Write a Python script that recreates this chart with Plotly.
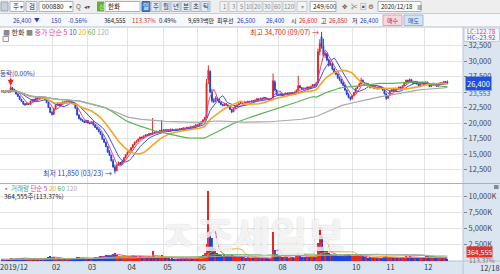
import plotly.graph_objects as go
import pandas as pd

FONT = "Noto Sans CJK KR, Noto Sans, DejaVu Sans, sans-serif"
W, H = 500, 274

# ---------------- data ----------------
stock_name = "한화"
stock_code = "000880"
last_date = "2020/12/18"
last_date_short = "12/18"
high_date = "09/07"
low_date = "03/23"

opens = [
    25100,25150,24950,25150,25050,25000,25700,25400,25100,24700,
    24300,23800,23500,23100,22950,23150,23000,23500,23800,23650,
    24000,23900,24100,23950,24050,23800,23300,22500,21700,21400,
    22300,22900,23100,22800,23200,23400,23300,23500,23600,23400,
    23300,23100,22400,21300,20700,20500,20300,20100,20400,20000,
    19900,20200,19700,19300,19000,18600,18200,17400,16900,16200,
    15300,14800,13900,12900,12300,13200,13600,13300,13800,14400,
    14900,15300,15600,16000,16500,16900,17100,17400,17700,17600,
    17900,18100,18000,18300,18200,18500,18400,18600,18500,18800,
    18700,18900,18800,18900,18700,19000,18900,18800,19000,18900,
    19100,19000,19200,19100,19300,19200,19400,19300,19500,19700,
    19600,19900,20200,20500,20900,27000,28300,25000,23600,23500,
    24000,23800,23300,23000,22800,23100,22900,22600,22200,21800,
    22300,22700,22900,23100,23300,23200,23400,23300,23500,23400,
    23600,23500,23700,23900,23800,24000,23900,24100,23900,23800,
    23700,24000,26600,25300,24600,24500,24700,24400,24600,24800,
    24500,24700,24900,24700,25000,25300,26000,25700,25400,25600,
    25500,25800,25600,25900,26200,26000,26500,31500,33900,32400,
    30900,31200,30200,29300,29600,28700,28200,27900,27300,27000,
    26500,26100,25300,24600,24100,23900,24400,24900,25600,25900,
    26300,26900,26500,26100,26300,25900,25700,26000,25600,25800,
    25500,25900,25600,25300,24700,24000,24400,25100,25400,25200,
    25600,25400,25800,25600,26000,26400,26900,26600,27000,26700,
    26400,26700,26300,26000,26300,26500,26200,26600,26300,25900,
    26100,26400,26200,25900,26200,26500,26300,26700,26600,
]
highs = [
    25250,25200,25250,25250,25150,26000,25800,25500,25150,24750,
    24400,23900,23550,23200,23300,23250,23600,23900,23900,24100,
    24150,24200,24200,24150,24100,23850,23350,22600,21900,22400,
    23000,23200,23150,23300,23500,23450,23600,23750,23650,23450,
    23350,23150,22450,21400,20900,20600,20400,20500,20450,20100,
    20300,20250,19750,19400,19100,18700,18250,17500,17000,16300,
    15600,14900,14200,13300,13300,13800,13700,13900,14500,15000,
    15400,15700,16100,16600,17000,17200,17500,17800,17800,18000,
    18200,18200,18400,18400,20800,18600,18700,18650,18900,20500,
    19000,19000,19000,18950,19100,19050,18950,19100,19050,19200,
    19150,19300,19250,19400,19350,19500,19450,19600,19800,19750,
    20000,20300,20600,21000,27100,29300,28500,25500,24000,24300,
    24200,23900,23400,23100,23200,23150,22950,22700,22300,22400,
    22800,23000,23200,23400,23350,23500,23450,23600,23550,23700,
    23650,23800,24000,23950,24100,24050,24200,24150,23950,23850,
    24000,28000,26900,25400,24700,24800,24750,24700,24900,24850,
    24800,25000,24950,25100,25400,27600,26100,25750,25700,25650,
    25900,25850,26000,26300,26250,26600,32000,33500,34700,33600,
    31500,31300,30400,29900,29700,28900,28400,28000,27500,27100,
    26700,26200,25400,24800,24300,24500,25000,25700,26000,26500,
    27300,27000,26600,26400,26350,26000,26100,26050,25900,25850,
    26000,25950,25700,25400,24800,24500,25200,25500,25450,25700,
    25650,25900,25850,26100,26500,27000,26950,27200,27050,26750,
    26800,26750,26350,26400,26600,26550,26700,26650,26350,26200,
    26500,26450,26250,26300,26600,26550,26800,26750,26850,
]
lows = [
    24950,24900,24900,25000,24950,24950,25350,25100,24600,24200,
    23700,23400,22900,22800,22900,22900,22950,23400,23550,23600,
    23800,23850,23900,23900,23700,23200,22400,21600,21200,21350,
    22250,22800,22700,22750,23150,23200,23250,23450,23300,23200,
    23000,22300,21200,20600,20400,20200,20000,20050,19900,19800,
    19850,19600,19200,18900,18500,18100,17300,16800,16100,15200,
    14700,13800,12800,11850,12200,13100,13200,13250,13700,14300,
    14800,15200,15500,15900,16400,16800,17000,17300,17450,17550,
    17800,17900,17950,18100,18150,18300,18350,18400,18450,18600,
    18650,18700,18750,18600,18650,18800,18700,18750,18850,18850,
    18950,18950,19000,19050,19100,19150,19200,19250,19450,19500,
    19550,19850,20150,20400,20850,26300,24800,23300,23200,23400,
    23600,23200,22900,22700,22750,22800,22500,22100,21600,21750,
    22250,22600,22850,23050,23100,23150,23200,23250,23300,23350,
    23400,23450,23650,23700,23750,23800,23850,23850,23700,23600,
    23650,23950,25100,24500,24400,24450,24300,24350,24550,24400,
    24450,24650,24600,24650,24950,25200,25600,25300,25350,25400,
    25450,25500,25550,25850,25900,25950,26400,30900,32000,30700,
    30500,30000,29100,29200,28500,28000,27700,27100,26800,26300,
    25900,25200,24500,24000,23600,23800,24300,24800,25500,25800,
    26200,26400,26000,26050,25800,25600,25650,25500,25550,25400,
    25450,25500,25200,24600,23700,23900,24350,25050,25100,25150,
    25300,25350,25500,25550,25950,26350,26500,26550,26600,26300,
    26350,26200,25900,25950,26250,26100,26150,26200,25800,25850,
    26050,26100,25800,25850,26150,26200,26250,26450,26400,
]
closes = [
    25150,24950,25150,25050,25000,25700,25400,25150,24700,24300,
    23800,23500,23100,22950,23150,23000,23500,23800,23650,24000,
    23900,24100,23950,24050,23800,23300,22500,21700,21400,22300,
    22900,23100,22800,23200,23400,23300,23500,23600,23400,23300,
    23100,22400,21300,20700,20500,20300,20100,20400,20000,19900,
    20200,19700,19300,19000,18600,18200,17400,16900,16200,15300,
    14800,13900,12900,12300,13200,13600,13300,13800,14400,14900,
    15300,15600,16000,16500,16900,17100,17400,17700,17600,17900,
    18100,18000,18300,18200,18500,18400,18600,18500,18800,18700,
    18900,18800,18900,18700,19000,18900,18800,19000,18900,19100,
    19000,19200,19100,19300,19200,19400,19300,19500,19700,19600,
    19900,20200,20500,20900,26400,28500,25000,23600,23500,24000,
    23800,23300,23000,22800,23100,22900,22600,22200,21800,22300,
    22700,22900,23100,23300,23200,23400,23300,23500,23400,23600,
    23500,23700,23900,23800,24000,23900,24100,23900,23800,23700,
    23900,26800,25300,24600,24500,24700,24400,24600,24800,24500,
    24700,24900,24700,25000,25300,26000,25700,25400,25600,25500,
    25800,25600,25900,26200,26000,26400,31500,32800,32400,30900,
    31200,30200,29300,29600,28700,28200,27900,27300,27000,26500,
    26100,25300,24600,24100,23900,24400,24900,25600,25900,26300,
    26900,26500,26100,26300,25900,25700,26000,25600,25800,25500,
    25900,25600,25300,24700,24000,24400,25100,25400,25200,25600,
    25400,25800,25600,26000,26400,26900,26600,27000,26700,26400,
    26700,26300,26000,26300,26500,26200,26600,26300,25900,26100,
    26400,26200,25900,26200,26500,26300,26700,26550,26400,
]
volume_k = [
    250,200,300,250,200,450,350,250,350,400,
    500,450,500,350,300,300,400,350,250,300,
    250,300,250,250,300,450,600,750,650,550,
    450,350,300,300,300,250,300,300,250,250,
    300,500,650,600,450,400,350,400,450,400,
    450,500,550,600,650,700,800,750,850,900,
    950,1000,1100,1200,900,800,700,750,800,700,
    750,700,800,900,750,700,650,700,600,650,
    550,600,700,650,1600,700,550,500,450,900,
    500,450,400,400,350,400,350,300,350,300,
    350,350,300,400,350,400,350,450,500,450,
    600,700,900,1200,2600,10800,4400,3600,2000,1800,
    1300,1100,900,800,900,750,700,800,900,800,
    700,650,600,650,550,600,500,550,500,450,
    500,450,500,450,400,450,400,450,400,350,
    400,4400,1700,1100,800,700,600,650,550,600,
    500,550,600,500,700,1300,800,650,600,550,
    600,650,700,800,750,1000,2700,5300,3800,2200,
    1600,1500,1200,1100,1000,900,850,800,750,700,
    800,900,1000,1100,900,800,750,700,800,750,
    900,700,600,550,500,550,500,450,500,450,
    500,450,500,550,700,600,650,550,500,450,
    500,450,500,550,650,750,600,700,550,500,
    550,500,450,500,550,600,700,800,600,550,
    500,450,500,450,500,550,450,400,364.555,
]

month_ticks = [-0.9, 28, 48, 70, 90, 109, 131, 154, 174, 195, 214, 235]
month_labels = ["2019/12", "02", "03", "04", "05", "06", "07", "08", "09", "10", "11", "12"]
price_ticks = [12500, 15000, 17500, 20000, 22500, 25000, 27500, 30000, 32500]
vol_ticks = [2500, 5000, 7500, 10000]
ma_periods = [5, 10, 20, 60, 120]
ma_colors = ["#e0409c", "#3558d8", "#f2a628", "#58b455", "#a9a9a9"]
ma_widths = [1, 1, 1.6, 1.2, 1.2]
vol_ma_periods = [5, 20, 60, 120]
vol_ma_colors = ["#e0409c", "#f2a628", "#58b455", "#a9a9a9"]

n = len(closes)
for arr in (opens, highs, lows, volume_k):
    if len(arr) != n:
        raise ValueError(f"length mismatch {len(arr)} vs {n}")

UP, DOWN = "#e8261e", "#1f43d6"
xs = list(range(n))

def px(x):
    return x / W

def py(y):
    return 1 - y / H

fig = go.Figure()

fig.add_trace(go.Candlestick(
    x=xs, open=opens, high=highs, low=lows, close=closes,
    xaxis="x2", yaxis="y",
    increasing=dict(line=dict(color=UP, width=1), fillcolor=UP),
    decreasing=dict(line=dict(color=DOWN, width=1), fillcolor=DOWN),
    whiskerwidth=0, hoverinfo="skip", showlegend=False))

cs = pd.Series(closes, dtype=float)
for p, c, w in zip(ma_periods, ma_colors, ma_widths):
    fig.add_trace(go.Scatter(x=xs, y=cs.rolling(p, min_periods=1).mean().tolist(), mode="lines",
                             line=dict(color=c, width=w), xaxis="x2", yaxis="y",
                             hoverinfo="skip", showlegend=False))

bar_colors = [UP if c >= o else DOWN for o, c in zip(opens, closes)]
fig.add_trace(go.Bar(x=xs, y=volume_k, marker=dict(color=bar_colors, line=dict(width=0)),
                     width=0.62, xaxis="x", yaxis="y2", hoverinfo="skip", showlegend=False))
vs = pd.Series(volume_k, dtype=float)
for p, c in zip(vol_ma_periods, vol_ma_colors):
    fig.add_trace(go.Scatter(x=xs, y=vs.rolling(p, min_periods=1).mean().tolist(), mode="lines",
                             line=dict(color=c, width=0.9), xaxis="x", yaxis="y2",
                             hoverinfo="skip", showlegend=False))

GRID = "#e3e3e3"
PLOT_R = 463
xrange_ = [-0.94, 256.7]
p_top, p_bot = 27, 183
v_top, v_bot = 184, 261
price_range = [10322, 35484]
vol_range = [0, 11855]

fig.update_layout(
    width=W, height=H, margin=dict(l=0, r=0, t=0, b=0), autosize=False,
    paper_bgcolor="white", plot_bgcolor="white", showlegend=False,
    font=dict(family=FONT, size=8, color="#333"),
    bargap=0,
    xaxis=dict(domain=[0, px(PLOT_R)], anchor="y2", range=xrange_,
               tickmode="array", tickvals=month_ticks, ticktext=month_labels,
               ticklabelposition="outside right", ticks="", showgrid=True, gridcolor=GRID,
               zeroline=False, showline=False, tickfont=dict(size=7.5, color="#333"),
               rangeslider=dict(visible=False)),
    xaxis2=dict(domain=[0, px(PLOT_R)], anchor="y", matches="x", range=xrange_,
                tickmode="array", tickvals=month_ticks, showticklabels=False, ticks="",
                showgrid=True, gridcolor=GRID, zeroline=False, showline=False,
                rangeslider=dict(visible=False)),
    yaxis=dict(domain=[py(p_bot), py(p_top)], anchor="x2", side="right", range=price_range,
               tickmode="array", tickvals=price_ticks,
               ticktext=[f"{v:,}" if v != 25000 else "" for v in price_ticks],
               showgrid=True, gridcolor=GRID, zeroline=False, showline=False,
               ticks="outside", ticklen=3, tickcolor="#7a8696",
               tickfont=dict(size=7.5, color="#4a4a4a")),
    yaxis2=dict(domain=[py(v_bot), py(v_top)], anchor="x", side="right", range=vol_range,
                tickmode="array", tickvals=vol_ticks,
                ticktext=[f"{v:,}K" for v in vol_ticks],
                showgrid=True, gridcolor=GRID, zeroline=False, showline=False,
                ticks="outside", ticklen=3, tickcolor="#7a8696",
                tickfont=dict(size=7.5, color="#4a4a4a")),
)

shapes = []
anns = []

def rect(x0, y0, x1, y1, fill, line=None, layer="below", lw=1):
    shapes.append(dict(type="rect", xref="paper", yref="paper",
                       x0=px(x0), x1=px(x1), y0=py(y1), y1=py(y0),
                       fillcolor=fill, line=dict(color=line or fill, width=lw if line else 0),
                       layer=layer))

def hline(y, x0, x1, color, layer="above"):
    shapes.append(dict(type="line", xref="paper", yref="paper", x0=px(x0), x1=px(x1),
                       y0=py(y), y1=py(y), line=dict(color=color, width=1), layer=layer))

def txt(x, y, s, color="#222", size=6.5, xanchor="left", bg=None, **kw):
    a = dict(x=px(x), y=py(y), xref="paper", yref="paper", text=s, showarrow=False,
             xanchor=xanchor, yanchor="middle", font=dict(size=size, color=color, family=FONT),
             borderpad=0)
    if bg:
        a["bgcolor"] = bg
    a.update(kw)
    anns.append(a)

# --- backgrounds ---
rect(0, 0, 500, 13.5, "#eeeeee")
rect(0, 13.5, 500, 27, "#f6f8fb")
hline(13.5, 0, 500, "#c9ced6", "below")
hline(27, 0, 500, "#b9bfc8", "below")
rect(PLOT_R, 27, 500, 261, "#dbe5f1")
rect(0, 261, 500, 274, "#dbe5f1")
hline(261, 0, 500, "#b9c4d2", "below")
hline(183.5, 0, 500, "#a9b0b9", "above")
shapes.append(dict(type="line", xref="paper", yref="paper", x0=px(PLOT_R), x1=px(PLOT_R),
                   y0=py(274), y1=py(27), line=dict(color="#b9c4d2", width=1), layer="below"))

# --- toolbar row 1 ---
rect(1, 2, 8, 11, "#c7d0dc", "#9aa6b6")
rect(10, 1.5, 24, 11.5, "white", "#a9b3c0"); txt(11.5, 6.5, "주"); txt(19, 6.5, "▾", "#555", 6)
rect(26, 1.5, 37, 11.5, "#f2f2f2", "#a9b3c0"); txt(28, 6.5, "검")
rect(39, 1.5, 73, 11.5, "white", "#a9b3c0"); txt(41, 6.5, stock_code, "#111", 6.5); txt(68, 6.5, "▾", "#555", 6)
txt(75, 6.5, "Q", "#666", 6.5)
txt(83, 6.5, "◂▾", "#555", 6)
rect(97, 1.5, 104, 11.5, "#5fae3e"); txt(97.5, 6.5, "신", "#fff36a", 6)
rect(105, 1.5, 140, 11.5, "white", "#a9b3c0"); txt(107, 6.5, stock_name, "#111", 6.5)
rect(142, 1.5, 150, 11.5, "#3f7fd0", "#2f6ab8"); txt(146, 6.5, "일", "white", 6.5, xanchor="center")
for i, s in enumerate(["주", "월", "년", "분", "초", "틱"]):
    x0 = 151 + i * 10
    rect(x0, 1.5, x0 + 9, 11.5, "#e7ebf1", "#aeb8c6"); txt(x0 + 4.5, 6.5, s, "#333", 6.5, xanchor="center")
for x0, s in [(220, "1"), (229, "3"), (237, "5"), (245, "10"), (253, "20"), (263, "30"), (273, "60"), (283, "120")]:
    wdt = 8 if len(s) == 1 else (9 if len(s) == 2 else 12)
    rect(x0, 1.5, x0 + wdt, 11.5, "#f1f1f1", "#c3c9d2"); txt(x0 + wdt / 2, 6.5, s, "#888", 6, xanchor="center")
rect(297, 1.5, 307, 11.5, "#f4f4f4", "#c3c9d2"); txt(302, 6.5, "▾", "#999", 6, xanchor="center")
rect(310, 1.5, 336, 11.5, "white", "#a9b3c0"); txt(312, 6.5, f"{n}", "#111", 6.5); txt(323, 6.5, "/600", "#444", 6)
for x0, s in [(341, "✥"), (350, "✂"), (359, "▣"), (367, "⚙")]:
    txt(x0, 6.5, s, "#555", 6.5)
rect(378, 1.5, 421, 11.5, "white", "#a9b3c0"); txt(379.5, 6.5, last_date, "#111", 6); txt(415.5, 6.5, "▦", "#555", 5)

# --- toolbar row 2 (quote line) ---
BLUE_T, RED_T = "#1f3fbf", "#d42a2a"
chg = closes[-1] - closes[-2]
pct = chg / closes[-2] * 100
Q = 6
txt(12, 20.3, f"{closes[-1]:,}", BLUE_T, Q); txt(33, 20.3, "▼", BLUE_T, 5.5)
txt(50, 20.3, f"{abs(chg):,}", BLUE_T, Q)
txt(67, 20.3, f"{pct:.2f}%", BLUE_T, Q)
txt(103, 20.3, "364,555", "#222", Q)
txt(131, 20.3, "113.37%", RED_T, Q)
txt(158, 20.3, "0.49%", "#222", Q)
txt(187, 20.3, "9,693백만", "#222", Q)
txt(216, 20.3, "최우선", "#222", Q)
txt(236, 20.3, "26,500", BLUE_T, Q)
txt(265, 20.3, "26,400", BLUE_T, Q)
txt(290, 20.3, "시", "#222", Q); txt(298, 20.3, f"{opens[-1]:,}", RED_T, Q)
txt(320, 20.3, "고", "#222", Q); txt(328, 20.3, f"{highs[-1]:,}", RED_T, Q)
txt(351, 20.3, "저", "#222", Q); txt(359, 20.3, f"{lows[-1]:,}", BLUE_T, Q)
rect(383, 15, 402, 25.5, "#f8d9e0", "#d9a3b1"); txt(392.5, 20.3, "매수", "#c0264a", Q, xanchor="center")
rect(404, 15, 423, 25.5, "#d4e3f6", "#9db6d8"); txt(413.5, 20.3, "매도", "#2350b0", Q, xanchor="center")

# --- price panel legend ---
legend_html = ('<span style="color:#8a8a8a">■</span> ' + stock_name +
               ' <span style="color:#8a8a8a">■</span> ' +
               f'<span style="color:{ma_colors[0]}">종가 단순 {ma_periods[0]}</span> ' +
               " ".join(f'<span style="color:{c}">{p}</span>' for p, c in zip(ma_periods[1:], ma_colors[1:])))
txt(2, 31.5, legend_html, "#333", 7)
rect(3, 36.5, 8.5, 41.5, "#f4f4f4", "#9a9a9a", layer="above")
txt(-1, 73, "등락(0.00%)", "#2a3a8a", 6.5)
anns.append(dict(x=5, y=highs[5], xref="x2", yref="y", text="", showarrow=True,
                 ax=0, ay=-9, arrowhead=2, arrowsize=0.8, arrowwidth=1.5, arrowcolor="#e02828"))

hi_idx = max(range(n), key=lambda i: highs[i])
lo_idx = min(range(n), key=lambda i: lows[i])
anns.append(dict(x=hi_idx, y=highs[hi_idx], xref="x2", yref="y", showarrow=False,
                 text=f"최고 {highs[hi_idx]:,} ({high_date}) →", xanchor="right", yanchor="middle",
                 xshift=-1, font=dict(size=7, color="#e02828", family=FONT)))
anns.append(dict(x=lo_idx, y=lows[lo_idx], xref="x2", yref="y", showarrow=False,
                 text=f"최저 {lows[lo_idx]:,} ({low_date}) →", xanchor="right", yanchor="middle",
                 xshift=-1, yshift=1, font=dict(size=7, color="#2c3fc0", family=FONT)))

# right axis extras
rect(464, 28, 499.5, 41.5, "#f3f6fb", "#c3cdda")
txt(465.5, 31.3, "LC:122.78", "#d0407f", 6.3)
txt(465.5, 38, "HC:-23.92", "#4a55c0", 6.3)
anns.append(dict(x=px(465), y=closes[-1], xref="paper", yref="y", showarrow=False,
                 text=f"{closes[-1]:,}", xanchor="left", yanchor="middle", bgcolor="#2150d8",
                 borderpad=1, font=dict(size=7.5, color="white", family=FONT)))
txt(468, 92.5, "23,553", "#4262c8", 7)

# --- volume panel legend ---
vol_legend = ('<span style="color:#8a8a8a">▪</span> <span style="color:#3a9a9a">거래량</span> ' +
              f'<span style="color:{vol_ma_colors[0]}">단순 {vol_ma_periods[0]}</span> ' +
              " ".join(f'<span style="color:{c}">{p}</span>' for p, c in zip(vol_ma_periods[1:], vol_ma_colors[1:])))
txt(2, 187.5, vol_legend, "#333", 6.5)
txt(3, 195.5, "364,555주(113.37%)", "#222", 6.5)
rect(494, 185, 498.5, 189, "#7d8a9c", layer="above")
txt(466, 252.3, "364,555", "white", 7, bg="#e2322b")
txt(468, 259.6, "113.37%", "#777", 6.5)

txt(479, 267.5, last_date_short, "#333", 7.5)

# watermark
for xw, s in [(158, "ㅈ"), (195, "조세일보")]:
    anns.append(dict(x=px(xw), y=py(234), xref="paper", yref="paper", showarrow=False,
                     text=f"<b>{s}</b>", xanchor="left", yanchor="middle",
                     font=dict(size=40, color="rgba(255,255,255,0.8)", family=FONT,
                               shadow="0px 0px 2px rgba(0,0,0,0.28)")))

fig.update_layout(shapes=shapes, annotations=anns)
fig.write_html("out.html")
